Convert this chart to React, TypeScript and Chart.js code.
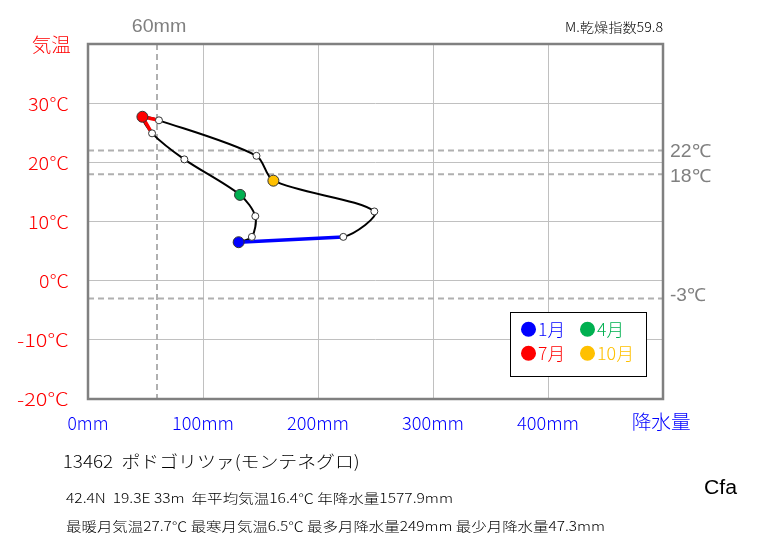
import React, { useEffect, useRef } from "react";
import { Chart, registerables } from "chart.js";

Chart.register(...registerables);

const months = ["1月", "2月", "3月", "4月", "5月", "6月", "7月", "8月", "9月", "10月", "11月", "12月"];
const precip = [131, 142.5, 145.5, 132.2, 83.8, 55.7, 47.3, 61.7, 146.5, 161.2, 249, 222];
const temp = [6.5, 7.4, 10.9, 14.5, 20.5, 24.9, 27.7, 27.1, 21.1, 16.9, 11.7, 7.4];

const markerColors: Record<number, string> = { 0: "#0000ff", 3: "#00b050", 6: "#ff0000", 9: "#ffc000" };
const xTicks = [0, 100, 200, 300, 400];
const yTicks = [30, 20, 10, 0, -10, -20];
const refTemps = [22, 18, -3];
const refPrecip = 60;

const titleLine = "13462  ポドゴリツァ(モンテネグロ)";
const infoLine1 = "42.4N  19.3E 33m  年平均気温16.4℃ 年降水量1577.9mm";
const infoLine2 = "最暖月気温27.7℃ 最寒月気温6.5℃ 最多月降水量249mm 最少月降水量47.3mm";
const dryIndex = "M.乾燥指数59.8";
const climateType = "Cfa";

const JP = '"Noto Sans CJK JP", sans-serif';
const SANS = '"Liberation Sans", Arial, sans-serif';

function fitText(
  ctx: CanvasRenderingContext2D,
  text: string,
  x: number,
  y: number,
  size: number,
  family: string,
  color: string,
  align: "left" | "right" | "center",
  width?: number,
  weight: string = "300"
) {
  ctx.save();
  ctx.font = `${weight} ${size}px ${family}`;
  ctx.fillStyle = color;
  ctx.textBaseline = "middle";
  ctx.textAlign = "left";
  const w = ctx.measureText(text).width;
  const s = width ? width / w : 1;
  const tw = w * s;
  let left = x;
  if (align === "right") left = x - tw;
  else if (align === "center") left = x - tw / 2;
  ctx.translate(left, y);
  ctx.scale(s, 1);
  ctx.fillText(text, 0, 0);
  ctx.restore();
}

const pt = (i: number) => ({ x: precip[i], y: temp[i] });

export default function App() {
  const ref = useRef<HTMLCanvasElement | null>(null);
  useEffect(() => {
    if (!ref.current) return;
    const loop = [...months.map((_, i) => pt(i)), pt(0)];
    const bgPlugin = {
      id: "bg",
      beforeDatasetsDraw(chart: any) {
        const { ctx, chartArea: a, scales } = chart;
        const xs = scales.x, ys = scales.y;
        ctx.save();
        ctx.strokeStyle = "#b0b0b0";
        ctx.lineWidth = 2;
        ctx.setLineDash([6, 4]);
        const px = xs.getPixelForValue(refPrecip);
        ctx.beginPath();
        ctx.moveTo(px, a.top);
        ctx.lineTo(px, a.bottom);
        ctx.stroke();
        refTemps.forEach((t) => {
          const py = ys.getPixelForValue(t);
          ctx.beginPath();
          ctx.moveTo(a.left, py);
          ctx.lineTo(a.right, py);
          ctx.stroke();
        });
        ctx.setLineDash([]);
        ctx.strokeStyle = "#808080";
        ctx.lineWidth = 2.5;
        ctx.strokeRect(a.left, a.top, a.right - a.left, a.bottom - a.top);
        ctx.restore();
      },
      afterDatasetsDraw(chart: any) {
        const { ctx } = chart;
        ctx.save();
        ctx.fillStyle = "#ffffff";
        ctx.fillRect(510.5, 312.5, 136, 64);
        ctx.strokeStyle = "#000000";
        ctx.lineWidth = 1;
        ctx.strokeRect(510.5, 312.5, 136, 64);
        const items = [
          { i: 0, cx: 528.5, cy: 329.3, tw: 27 },
          { i: 3, cx: 587.5, cy: 329.3, tw: 27 },
          { i: 6, cx: 528.5, cy: 353.3, tw: 27 },
          { i: 9, cx: 587.5, cy: 353.3, tw: 37 },
        ];
        items.forEach((it) => {
          const c = markerColors[it.i];
          ctx.fillStyle = c;
          ctx.beginPath();
          ctx.arc(it.cx, it.cy, 7.5, 0, Math.PI * 2);
          ctx.fill();
          fitText(ctx, months[it.i], it.cx + 9.5, it.cy, 17, JP, c, "left", it.tw);
        });
        ctx.restore();
      },
      afterDraw(chart: any) {
        const { ctx, scales } = chart;
        const xs = scales.x, ys = scales.y;
        yTicks.forEach((v) => {
          const w = v < 0 ? 52 : v === 0 ? 30 : 41;
          fitText(ctx, `${v}℃`, 69, ys.getPixelForValue(v) + 0.5, 18, JP, "#ff0000", "right", w);
        });
        xTicks.forEach((v) => {
          const w = v === 0 ? 41 : 62;
          fitText(ctx, `${v}mm`, xs.getPixelForValue(v), 423.3, 18, JP, "#0000ff", "center", w);
        });
        fitText(ctx, "気温", 31.7, 44.5, 19, JP, "#ff0000", "left", 39.3);
        fitText(ctx, "降水量", 631.7, 422, 19, JP, "#0000ff", "left", 59);
        fitText(ctx, `${refPrecip}mm`, xs.getPixelForValue(refPrecip) + 2, 27.3, 18, SANS, "#808080", "center", 54.6, "400");
        const offs = [2, 3, -2];
        refTemps.forEach((t, k) => {
          const w = t < 0 ? 36 : 41;
          fitText(ctx, `${t}℃`, 670, ys.getPixelForValue(t) + offs[k], 18, SANS, "#808080", "left", w, "400");
        });
        fitText(ctx, dryIndex, 565, 27, 13, JP, "#000000", "left", 98);
        fitText(ctx, titleLine, 62.7, 461.5, 17, JP, "#000000", "left", 297);
        fitText(ctx, infoLine1, 66, 498, 13, JP, "#000000", "left", 387);
        fitText(ctx, infoLine2, 66, 526, 13, JP, "#000000", "left", 539);
        fitText(ctx, climateType, 704, 488.5, 20, SANS, "#000000", "left", 33, "400");
      },
    };

    const chart = new Chart(ref.current, {
      type: "scatter",
      data: {
        datasets: [
          {
            data: months.map((_, i) => pt(i)),
            showLine: false,
            pointRadius: months.map((_, i) => (markerColors[i] ? 5.5 : 3.5)),
            pointBackgroundColor: months.map((_, i) => markerColors[i] || "#ffffff"),
            pointBorderColor: "#333333",
            pointBorderWidth: 1,
            order: 0,
          } as any,
          {
            data: [pt(5), pt(6), pt(7)],
            showLine: true,
            borderColor: "#ff0000",
            borderWidth: 3.5,
            pointRadius: 0,
            tension: 0,
            order: 1,
          },
          {
            data: [pt(11), pt(0)],
            showLine: true,
            borderColor: "#0000ff",
            borderWidth: 3.5,
            pointRadius: 0,
            tension: 0,
            order: 1,
          },
          {
            data: loop,
            showLine: true,
            borderColor: "#000000",
            borderWidth: 2,
            pointRadius: 0,
            tension: 0.3,
            order: 2,
            segment: {
              borderColor: (c: any) => (c.p0DataIndex === 11 ? "rgba(0,0,0,0)" : "#000000"),
            },
          } as any,
        ],
      },
      options: {
        responsive: false,
        animation: false,
        layout: { padding: { left: 88, right: 100, top: 44, bottom: 146 } },
        plugins: { legend: { display: false }, tooltip: { enabled: false } },
        scales: {
          x: {
            type: "linear",
            min: 0,
            max: 500,
            ticks: { display: false, stepSize: 100 },
            grid: { color: "#c0c0c0", drawTicks: false, lineWidth: 1 },
            border: { display: false },
          },
          y: {
            type: "linear",
            min: -20,
            max: 40,
            ticks: { display: false, stepSize: 10 },
            grid: { color: "#c0c0c0", drawTicks: false, lineWidth: 1 },
            border: { display: false },
          },
        },
      },
      plugins: [bgPlugin],
    });
    return () => chart.destroy();
  }, []);

  return (
    <canvas
      ref={ref}
      width={763}
      height={545}
      style={{ position: "absolute", left: 0, top: 0, background: "#ffffff" }}
    />
  );
}
